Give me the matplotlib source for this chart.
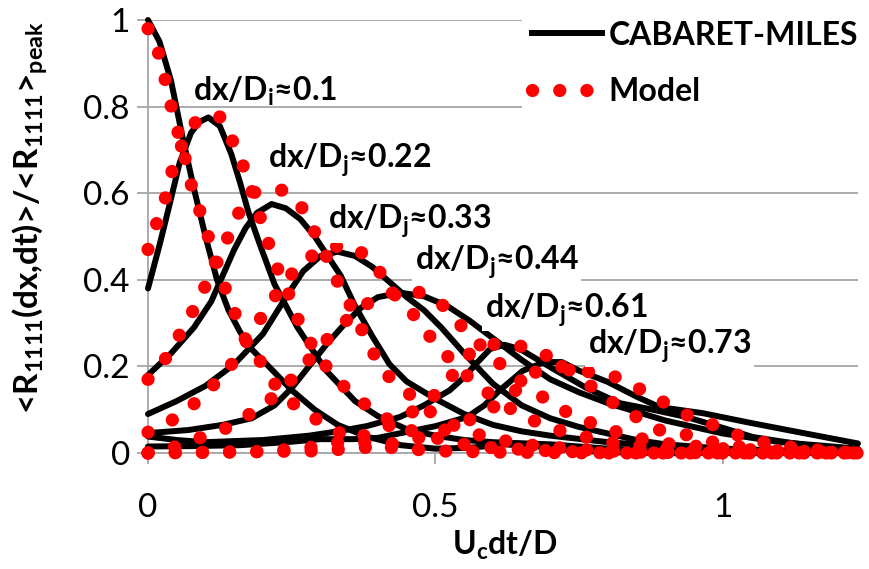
import matplotlib
matplotlib.use("Agg")
import matplotlib.pyplot as plt
from matplotlib.lines import Line2D

plt.rcParams['font.family'] = ['Lato', 'DejaVu Sans']
plt.rcParams['mathtext.fontset'] = 'custom'
plt.rcParams['mathtext.rm'] = 'Lato'
plt.rcParams['mathtext.bf'] = 'Lato:bold'
plt.rcParams['mathtext.it'] = 'Lato:italic'

# CABARET-MILES correlation curves, one per separation dx/Dj
cab_x_0 = [0, 0.02, 0.04, 0.06, 0.08, 0.10, 0.12, 0.14, 0.16, 0.18, 0.21, 0.25, 0.29, 0.33, 0.38, 0.44, 0.50, 0.56, 0.62, 0.68, 0.75, 0.85, 1.0, 1.235]
cab_y_0 = [1.0, 0.95, 0.86, 0.73, 0.61, 0.50, 0.40, 0.33, 0.28, 0.24, 0.20, 0.145, 0.10, 0.065, 0.038, 0.018, 0.01, 0.012, 0.02, 0.015, 0.005, 0.0, 0.0, 0.0]

cab_x_1 = [0, 0.02, 0.035, 0.055, 0.075, 0.09, 0.105, 0.125, 0.145, 0.16, 0.175, 0.195, 0.22, 0.26, 0.31, 0.36, 0.40, 0.45, 0.50, 0.55, 0.6, 0.7, 0.8, 0.9, 1.0, 1.235]
cab_y_1 = [0.38, 0.48, 0.56, 0.67, 0.74, 0.765, 0.775, 0.755, 0.69, 0.625, 0.555, 0.48, 0.39, 0.29, 0.19, 0.12, 0.085, 0.055, 0.04, 0.03, 0.025, 0.02, 0.01, 0.005, 0.0, 0.0]

cab_x_2 = [0, 0.04, 0.08, 0.11, 0.13, 0.15, 0.17, 0.19, 0.215, 0.24, 0.265, 0.29, 0.31, 0.335, 0.36, 0.39, 0.42, 0.45, 0.50, 0.55, 0.60, 0.65, 0.70, 0.8, 0.9, 1.0, 1.235]
cab_y_2 = [0.18, 0.23, 0.29, 0.35, 0.41, 0.47, 0.52, 0.555, 0.575, 0.565, 0.54, 0.50, 0.46, 0.41, 0.34, 0.27, 0.205, 0.165, 0.125, 0.09, 0.065, 0.05, 0.04, 0.025, 0.015, 0.01, 0.0]

cab_x_3 = [0, 0.05, 0.10, 0.15, 0.20, 0.24, 0.27, 0.30, 0.33, 0.36, 0.39, 0.42, 0.45, 0.48, 0.51, 0.55, 0.60, 0.65, 0.70, 0.75, 0.80, 0.85, 0.9, 1.0, 1.1, 1.235]
cab_y_3 = [0.09, 0.12, 0.155, 0.205, 0.275, 0.36, 0.42, 0.455, 0.465, 0.455, 0.43, 0.395, 0.36, 0.33, 0.29, 0.23, 0.16, 0.11, 0.08, 0.06, 0.045, 0.03, 0.02, 0.01, 0.005, 0.0]

cab_x_4 = [0, 0.07, 0.13, 0.18, 0.22, 0.25, 0.28, 0.31, 0.34, 0.37, 0.40, 0.44, 0.48, 0.52, 0.56, 0.60, 0.65, 0.70, 0.75, 0.80, 0.85, 0.90, 0.95, 1.0, 1.1, 1.235]
cab_y_4 = [0.046, 0.053, 0.065, 0.08, 0.11, 0.15, 0.20, 0.25, 0.295, 0.335, 0.36, 0.37, 0.362, 0.34, 0.305, 0.265, 0.215, 0.17, 0.14, 0.115, 0.095, 0.075, 0.06, 0.045, 0.025, 0.01]

cab_x_5 = [0, 0.05, 0.1, 0.2, 0.28, 0.33, 0.38, 0.438, 0.48, 0.525, 0.55, 0.572, 0.595, 0.62, 0.647, 0.704, 0.763, 0.821, 0.878, 0.937, 0.995, 1.052, 1.11, 1.169, 1.235]
cab_y_5 = [0.038, 0.03, 0.025, 0.03, 0.04, 0.05, 0.062, 0.083, 0.11, 0.145, 0.175, 0.208, 0.24, 0.25, 0.24, 0.195, 0.15, 0.115, 0.1, 0.083, 0.06, 0.037, 0.025, 0.014, 0.008]

cab_x_6 = [0, 0.08, 0.16, 0.24, 0.3, 0.36, 0.40, 0.44, 0.50, 0.555, 0.585, 0.612, 0.652, 0.69, 0.72, 0.75, 0.80, 0.85, 0.89, 0.965, 1.05, 1.14, 1.235]
cab_y_6 = [0.015, 0.016, 0.018, 0.025, 0.032, 0.032, 0.035, 0.046, 0.062, 0.083, 0.11, 0.145, 0.19, 0.21, 0.21, 0.19, 0.164, 0.13, 0.106, 0.092, 0.069, 0.046, 0.022]

# model curves
mod_x_0 = [0, 0.01, 0.023, 0.033, 0.043, 0.056, 0.068, 0.078, 0.094, 0.108, 0.12, 0.137, 0.155, 0.172, 0.2, 0.224, 0.259, 0.3, 0.334, 0.374, 0.426, 0.5, 0.6, 0.8, 1.0, 1.235]
mod_y_0 = [0.98, 0.965, 0.9, 0.845, 0.785, 0.723, 0.663, 0.603, 0.545, 0.487, 0.44, 0.37, 0.31, 0.254, 0.203, 0.152, 0.106, 0.072, 0.046, 0.025, 0.012, 0.005, 0.002, 0.0, 0.0, 0.0]

mod_x_1 = [0, 0.017, 0.033, 0.043, 0.06, 0.085, 0.105, 0.125, 0.148, 0.165, 0.181, 0.195, 0.209, 0.224, 0.244, 0.259, 0.28, 0.31, 0.35, 0.4, 0.45, 0.5, 0.55, 0.6, 0.7, 0.8, 1.0, 1.235]
mod_y_1 = [0.47, 0.538, 0.6, 0.658, 0.715, 0.769, 0.78, 0.776, 0.718, 0.665, 0.603, 0.545, 0.487, 0.43, 0.37, 0.314, 0.26, 0.2, 0.14, 0.09, 0.055, 0.035, 0.02, 0.012, 0.005, 0.0, 0.0, 0.0]

mod_x_2 = [0, 0.038, 0.059, 0.082, 0.103, 0.12, 0.143, 0.16, 0.18, 0.2, 0.235, 0.268, 0.29, 0.31, 0.33, 0.35, 0.37, 0.39, 0.416, 0.443, 0.485, 0.53, 0.58, 0.65, 0.75, 0.85, 1.0, 1.235]
mod_y_2 = [0.17, 0.23, 0.284, 0.337, 0.395, 0.45, 0.508, 0.561, 0.6, 0.607, 0.607, 0.566, 0.51, 0.455, 0.395, 0.346, 0.29, 0.235, 0.18, 0.15, 0.1, 0.065, 0.04, 0.02, 0.008, 0.002, 0.0, 0.0]

mod_x_3 = [0, 0.042, 0.078, 0.111, 0.143, 0.17, 0.2, 0.23, 0.26, 0.3, 0.34, 0.363, 0.398, 0.421, 0.456, 0.49, 0.53, 0.57, 0.62, 0.67, 0.72, 0.8, 0.9, 1.0, 1.235]
mod_y_3 = [0.048, 0.076, 0.111, 0.153, 0.2, 0.255, 0.32, 0.38, 0.43, 0.47, 0.48, 0.473, 0.43, 0.376, 0.33, 0.27, 0.21, 0.16, 0.11, 0.075, 0.05, 0.025, 0.01, 0.005, 0.0]

mod_x_4 = [0, 0.05, 0.094, 0.137, 0.177, 0.216, 0.25, 0.28, 0.31, 0.34, 0.37, 0.40, 0.44, 0.47, 0.51, 0.54, 0.57, 0.60, 0.64, 0.68, 0.72, 0.76, 0.8, 0.85, 0.9, 1.0, 1.1, 1.235]
mod_y_4 = [0.0, 0.015, 0.037, 0.058, 0.09, 0.127, 0.17, 0.215, 0.26, 0.30, 0.335, 0.36, 0.375, 0.372, 0.345, 0.30, 0.26, 0.22, 0.175, 0.135, 0.1, 0.075, 0.055, 0.035, 0.022, 0.01, 0.005, 0.0]

mod_x_5 = [0, 0.2, 0.3, 0.35, 0.4, 0.45, 0.5, 0.53, 0.563, 0.609, 0.656, 0.699, 0.74, 0.78, 0.81, 0.85, 0.89, 0.937, 0.983, 1.03, 1.1, 1.235]
mod_y_5 = [0.0, 0.003, 0.015, 0.03, 0.05, 0.085, 0.135, 0.18, 0.235, 0.254, 0.245, 0.222, 0.185, 0.145, 0.115, 0.083, 0.053, 0.042, 0.025, 0.014, 0.005, 0.0]

mod_x_6 = [0, 0.3, 0.4, 0.45, 0.5, 0.55, 0.6, 0.64, 0.677, 0.722, 0.769, 0.812, 0.852, 0.896, 0.937, 0.983, 1.024, 1.07, 1.117, 1.163, 1.21, 1.235]
mod_y_6 = [0.0, 0.005, 0.015, 0.028, 0.045, 0.07, 0.105, 0.145, 0.19, 0.2, 0.187, 0.176, 0.15, 0.118, 0.088, 0.065, 0.042, 0.025, 0.014, 0.007, 0.002, 0.0]

cab_x = [cab_x_0, cab_x_1, cab_x_2, cab_x_3, cab_x_4, cab_x_5, cab_x_6]
cab_y = [cab_y_0, cab_y_1, cab_y_2, cab_y_3, cab_y_4, cab_y_5, cab_y_6]
mod_x = [mod_x_0, mod_x_1, mod_x_2, mod_x_3, mod_x_4, mod_x_5, mod_x_6]
mod_y = [mod_y_0, mod_y_1, mod_y_2, mod_y_3, mod_y_4, mod_y_5, mod_y_6]

# separation labels and where they sit (data coords, left edge)
sep_labels = ['dx/D$_\\mathbf{i}$≈0.1', 'dx/D$_\\mathbf{j}$≈0.22', 'dx/D$_\\mathbf{j}$≈0.33',
              'dx/D$_\\mathbf{j}$≈0.44', 'dx/D$_\\mathbf{j}$≈0.61', 'dx/D$_\\mathbf{j}$≈0.73']
sep_lab_x = [0.078, 0.208, 0.313, 0.464, 0.586, 0.765]
sep_lab_y = [0.835, 0.677, 0.535, 0.441, 0.33, 0.247]

xticks = [0, 0.5, 1]
xtick_labels = ['0', '0.5', '1']
yticks = [0, 0.2, 0.4, 0.6, 0.8, 1.0]
ytick_labels = ['0', '0.2', '0.4', '0.6', '0.8', '1']

grey = '#a6a6a6'
fs = 23

fig = plt.figure(figsize=(8.69, 5.69), dpi=100)
ax = fig.add_axes([148/869, 116/569, 710/869, 433/569])

for xs, ys in zip(cab_x, cab_y):
    ax.plot(xs, ys, color='black', lw=4.3, solid_capstyle='round', zorder=3, clip_on=False)
for xs, ys in zip(mod_x, mod_y):
    ax.plot(xs, ys, color='red', lw=9.5, linestyle=(0, (0.01, 2.05)),
            dash_capstyle='round', zorder=4, clip_on=False)

for i, (t, lx, ly) in enumerate(zip(sep_labels, sep_lab_x, sep_lab_y)):
    box = None if i == 0 else dict(boxstyle='square,pad=0.08', fc='white', ec='none')
    ax.text(lx, ly, t, fontsize=fs, fontweight='bold', ha='left', va='center',
            bbox=box, zorder=6)

ax.set_xlim(0, 1.235)
ax.set_ylim(0, 1)
ax.set_xticks(xticks)
ax.set_xticklabels(xtick_labels)
ax.set_yticks(yticks)
ax.set_yticklabels(ytick_labels)
ax.yaxis.grid(True, color=grey, lw=1.3, zorder=0)
ax.set_axisbelow(True)
for s in ['top', 'right']:
    ax.spines[s].set_visible(False)
for s in ['left', 'bottom']:
    ax.spines[s].set_color(grey)
    ax.spines[s].set_linewidth(1.3)
ax.tick_params(axis='both', length=8, width=1.3, color=grey, labelsize=24)
ax.tick_params(axis='x', pad=21)
ax.tick_params(axis='y', pad=5)

fig.text(30/869, 1 - 218/569, '<R$_\\mathbf{1111}$(dx,dt)>/<R$_\\mathbf{1111}$>$_\\mathbf{peak}$',
         rotation=90, ha='center', va='center', fontsize=24, fontweight='bold')
fig.text(505/869, 1 - 545/569, 'U$_\\mathbf{c}$dt/D', ha='center', va='center',
         fontsize=fs, fontweight='bold')

handles = [Line2D([], [], color='black', lw=4.3),
           Line2D([], [], color='red', lw=9.5, linestyle=(0, (0.01, 2.05)), dash_capstyle='round')]
leg = ax.legend(handles, ['CABARET-MILES', 'Model'], loc='upper left',
                bbox_to_anchor=(522/869, 1 - 11/569), bbox_transform=fig.transFigure,
                prop={'size': fs, 'weight': 'bold'}, frameon=True, fancybox=False,
                edgecolor='none', facecolor='white', framealpha=1, borderaxespad=0,
                handlelength=2.2, handletextpad=0.2, labelspacing=0.85, borderpad=0.3)
leg.set_zorder(7)

fig.savefig('out.png', dpi=100)
